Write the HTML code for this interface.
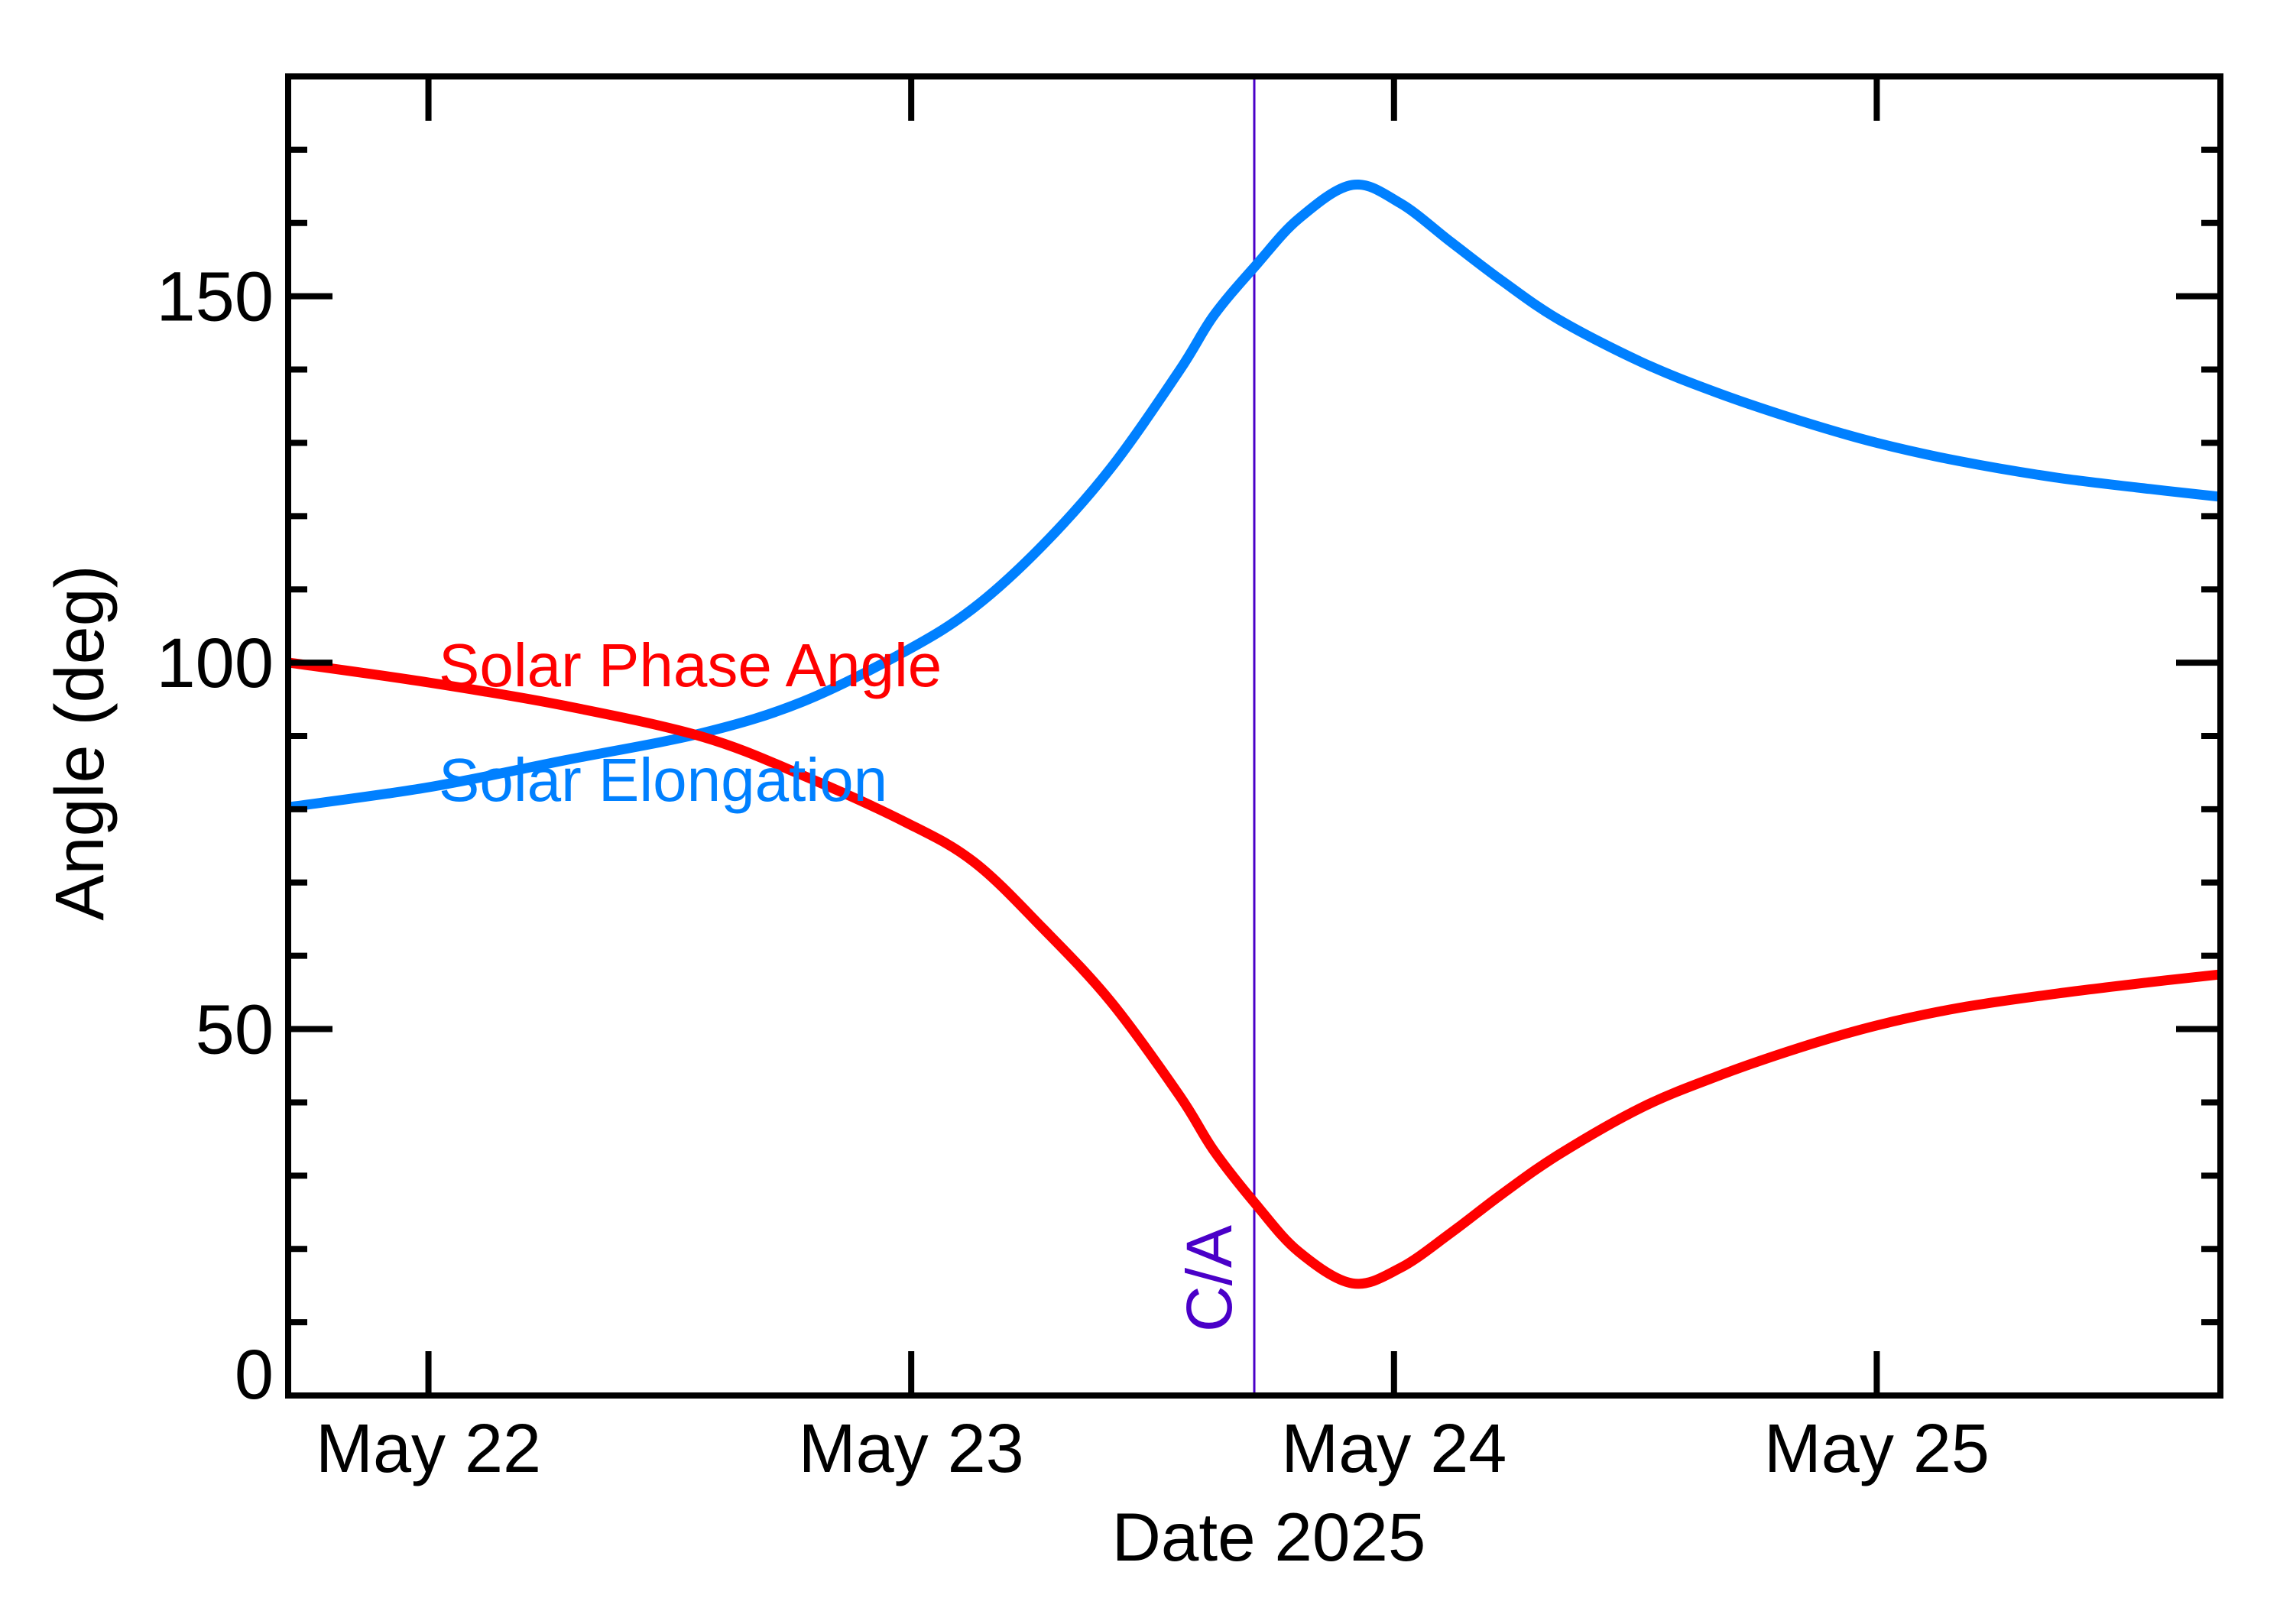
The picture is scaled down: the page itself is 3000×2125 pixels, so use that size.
<!DOCTYPE html>
<html><head><meta charset="utf-8"><style>
html,body{margin:0;padding:0;background:#fff;}
svg{display:block;font-family:"Liberation Sans",sans-serif;}
</style></head><body>
<svg id="chart" width="3000" height="2125" viewBox="0 0 3000 2125" xmlns="http://www.w3.org/2000/svg">
<rect x="0" y="0" width="3000" height="2125" fill="#fff"/>
<g id="marks"></g>
<g id="axes"></g>
</svg>
<script>
const days = [-0.288,0,0.284,0.567,0.776,0.989,1.13,1.272,1.414,1.556,1.627,1.715,1.803,1.914,2.013,2.118,2.224,2.342,2.513,2.671,2.842,3.0,3.171,3.368,3.566,3.717];
const elongation = [80.3,83.0,86.7,90.4,94.7,101.6,107.5,116,126.6,139.9,147.4,154.3,160.6,165.2,162.7,157.4,152.1,146.8,141,136.8,133,130,127.5,125.3,123.7,122.6];
const phaseAngle = [100,97.3,94.1,89.9,84.6,78.2,72.8,63.8,53.7,40.9,33.4,26.0,19.6,15.3,17.4,22.2,27.5,32.9,39.3,43.6,47.5,50.5,52.9,54.8,56.4,57.5];
const xTickDays = [0,1,2,3];
const xTickLabels = ["May 22","May 23","May 24","May 25"];
const yTickValues = [0,50,100,150];
const yTickLabels = ["0","50","100","150"];
const caDay = 1.7106;

const L=377,R=2905,T=100,B=1826;
const xMin=-0.2906,xMax=3.7118,yMin=0,yMax=180;
const sx=d=>L+(d-xMin)/(xMax-xMin)*(R-L);
const sy=v=>B-(v-yMin)/(yMax-yMin)*(B-T);
const NS="http://www.w3.org/2000/svg";
const marks=document.getElementById('marks'), axes=document.getElementById('axes');
function mk(tag,attrs,parent){const e=document.createElementNS(NS,tag);for(const k in attrs)e.setAttribute(k,attrs[k]);parent.appendChild(e);return e;}
function smoothPath(xs,ys){
  const p=xs.map((d,i)=>[sx(d),sy(ys[i])]);
  let s=`M${p[0][0]},${p[0][1]}`;
  for(let i=0;i<p.length-1;i++){
    const p0=p[Math.max(0,i-1)],p1=p[i],p2=p[i+1],p3=p[Math.min(p.length-1,i+2)];
    const c1=[p1[0]+(p2[0]-p0[0])/6,p1[1]+(p2[1]-p0[1])/6];
    const c2=[p2[0]-(p3[0]-p1[0])/6,p2[1]-(p3[1]-p1[1])/6];
    s+=` C${c1[0]},${c1[1]} ${c2[0]},${c2[1]} ${p2[0]},${p2[1]}`;
  }
  return s;
}
const cp=mk('clipPath',{id:'clip'},marks);
mk('rect',{x:L,y:T,width:R-L,height:B-T},cp);
const ca=mk('line',{x1:sx(caDay),x2:sx(caDay),y1:T,y2:B,stroke:'#4a00c8','stroke-width':3},marks);


const cat=mk('text',{x:0,y:0,transform:`translate(${sx(caDay)-30},1743) rotate(-90)`,fill:'#4a00c8','font-size':84},marks);
cat.textContent='C/A';


const pe=mk('path',{d:smoothPath(days,elongation),fill:'none',stroke:'#0080ff','stroke-width':13,'clip-path':'url(#clip)'},marks);


const pp=mk('path',{d:smoothPath(days,phaseAngle),fill:'none',stroke:'#ff0000','stroke-width':13,'clip-path':'url(#clip)'},marks);


const lg1=mk('text',{x:574,y:898,fill:'#ff0000','font-size':80},marks);
lg1.textContent='Solar Phase Angle';


const lg2=mk('text',{x:574,y:1048,fill:'#0080ff','font-size':80},marks);
lg2.textContent='Solar Elongation';



const frame=mk('rect',{x:L,y:T,width:R-L,height:B-T,fill:'none',stroke:'#000','stroke-width':8},axes);


xTickDays.forEach((d,i)=>{
  const x=sx(d);
  mk('line',{x1:x,x2:x,y1:B,y2:B-58,stroke:'#000','stroke-width':8},axes);
  mk('line',{x1:x,x2:x,y1:T,y2:T+58,stroke:'#000','stroke-width':8},axes);
  const t=mk('text',{x:x,y:1926,'text-anchor':'middle','font-size':90},axes);
  t.textContent=xTickLabels[i];
  
  
});
for(let v=10;v<yMax;v+=10){
  const y=sy(v);const major=v%50===0;const len=major?58:25;
  mk('line',{x1:L,x2:L+len,y1:y,y2:y,stroke:'#000','stroke-width':8},axes);
  mk('line',{x1:R,x2:R-len,y1:y,y2:y,stroke:'#000','stroke-width':8},axes);
}
yTickValues.forEach((v,i)=>{
  const t=mk('text',{x:358,y:sy(v)+32-(v===0?28:0),'text-anchor':'end','font-size':92},axes);
  t.textContent=yTickLabels[i];
  
  
});
const xt=mk('text',{x:1660,y:2042,'text-anchor':'middle','font-size':89},axes);
xt.textContent='Date 2025';


const yt=mk('text',{x:0,y:0,transform:'translate(135,972) rotate(-90)','text-anchor':'middle','font-size':90},axes);
yt.textContent='Angle (deg)';


</script>
</body></html>
